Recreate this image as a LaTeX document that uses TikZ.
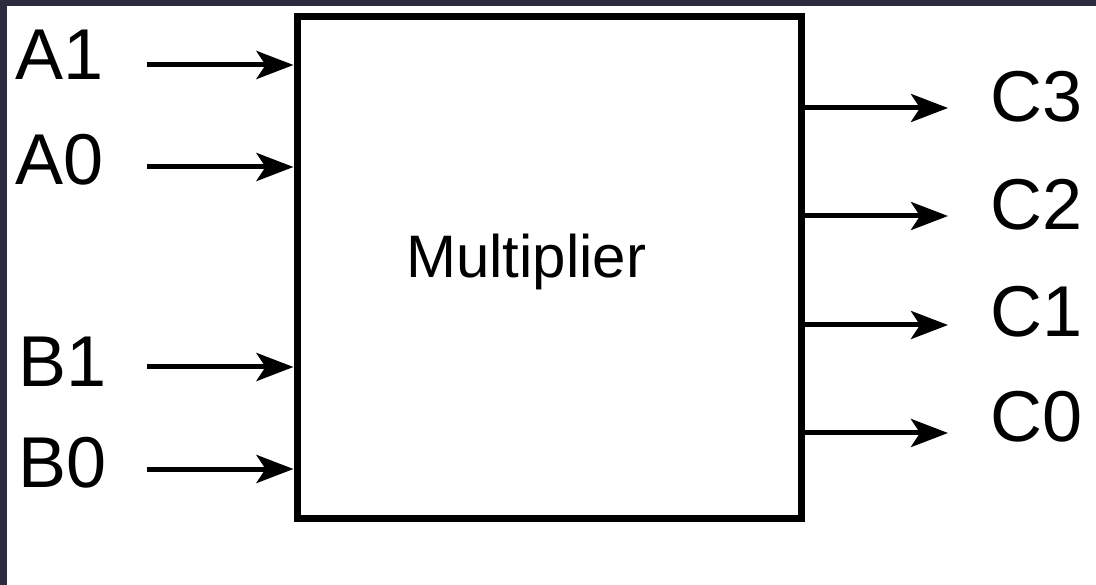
\documentclass[tikz,border=0pt]{standalone}
\usepackage{fontspec}
\setmainfont{Liberation Sans}
\usetikzlibrary{arrows.meta}
\definecolor{frameink}{HTML}{2B2C40}
\begin{document}
\begin{tikzpicture}[x=1pt,y=-1pt,
  sig/.style={line width=5pt,-{Stealth[length=37pt,width=28pt,inset=9pt]}},
  pin/.style={anchor=base west,inner sep=0pt,font=\fontsize{72}{80}\selectfont},
  block/.style={draw,line width=7pt,minimum width=504pt,minimum height=501pt,inner sep=0pt}]
  % canvas with dark strip on the top and left
  \fill[frameink] (0,0) rectangle (1096,585);
  \fill[white] (7,6) rectangle (1096,585);
  \useasboundingbox (0,0) rectangle (1096,585);

  % the multiplier block
  \node[block] (mult) at (549,267.5) {};
  \node[anchor=base west,inner sep=0pt,font=\fontsize{60}{66}\selectfont] (title) at (406,278) {Multiplier};

  % inputs
  \node[pin] (la1) at (15,80) {A1};
  \node[pin] (la0) at (15,185) {A0};
  \node[pin] (lb1) at (18,387) {B1};
  \node[pin] (lb0) at (18,487) {B0};
  \coordinate (a1s) at (147,65);
  \coordinate (a0s) at (147,167);
  \coordinate (b1s) at (147,367);
  \coordinate (b0s) at (147,469);
  \foreach \s in {a1s,a0s,b1s,b0s}
    \draw[sig] (\s) -- (\s -| mult.west);

  % outputs
  \node[pin] (lc3) at (990,122) {C3};
  \node[pin] (lc2) at (990,230) {C2};
  \node[pin] (lc1) at (990,337) {C1};
  \node[pin] (lc0) at (990,442) {C0};
  \coordinate (c3e) at (948,108);
  \coordinate (c2e) at (948,216);
  \coordinate (c1e) at (948,325);
  \coordinate (c0e) at (948,433);
  \foreach \e in {c3e,c2e,c1e,c0e}
    \draw[sig] (\e -| mult.east) -- (\e);
\end{tikzpicture}
\end{document}
